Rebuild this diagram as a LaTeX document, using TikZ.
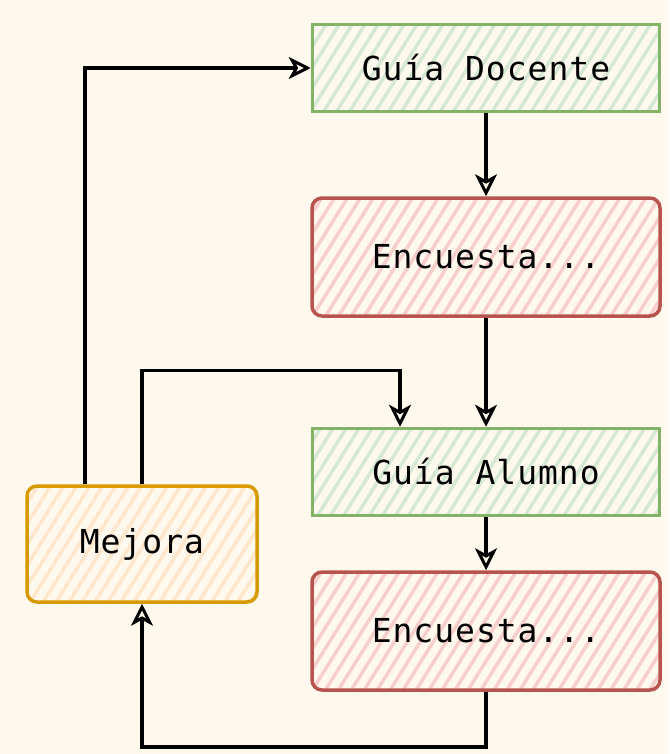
\documentclass[tikz,border=0pt]{standalone}
\usepackage{fontspec}
\setmonofont{DejaVu Sans Mono}
\newfontfamily\boxfont{DejaVu Sans Mono}[LetterSpace=3]
\usepackage{tikz}
\usetikzlibrary{arrows.meta}
\usetikzlibrary{patterns.meta}
\usetikzlibrary{positioning}

\definecolor{PaperColor}{RGB}{255,249,237}
\definecolor{GreenLine}{HTML}{82B366}
\definecolor{GreenFill}{HTML}{D5E8D4}
\definecolor{RedLine}{HTML}{B85450}
\definecolor{RedFill}{HTML}{F8CECC}
\definecolor{OrangeLine}{HTML}{D79B00}
\definecolor{OrangeFill}{HTML}{FFE6CC}

\tikzset{
  hatchbox/.style={line width=3.5pt, font=\boxfont\fontsize{33}{40}\selectfont,
    pattern={Lines[angle=58, distance=11pt, line width=3.5pt]}},
  guidebox/.style={hatchbox, draw=GreenLine, pattern color=GreenFill,
    minimum width=347pt, minimum height=87pt},
  surveybox/.style={hatchbox, draw=RedLine, pattern color=RedFill, rounded corners=10pt,
    minimum width=348pt, minimum height=118pt},
  fixbox/.style={hatchbox, draw=OrangeLine, pattern color=OrangeFill, rounded corners=10pt,
    minimum width=230pt, minimum height=116pt},
  arrow/.style={line width=3.5pt, black, -{Stealth[open, inset=6pt, length=22pt, width=22pt, line width=3pt]}}
}

\begin{document}
\begin{tikzpicture}[x=1pt, y=-1pt]
  \fill[PaperColor] (0,0) rectangle (669,754);
  \useasboundingbox (0,0) rectangle (669,754);

  \node[guidebox] (docente) at (486,68) {Guía Docente};
  \node[surveybox] (survey1) at (486,257) {Encuesta...};
  \node[guidebox] (alumno) at (486,472) {Guía Alumno};
  \node[surveybox] (survey2) at (486,631) {Encuesta...};
  \node[fixbox] (mejora) at (142,544) {Mejora};

  % main chain
  \draw[arrow] (docente) -- (survey1);
  \draw[arrow] (survey1) -- (alumno);
  \draw[arrow] (alumno) -- (survey2);

  % feedback loops
  \draw[arrow] (survey2.south) -- ++(0,55) -| (mejora.south);
  \draw[arrow] ([xshift=-57pt]mejora.north) |- (docente.west);
  \draw[arrow] (mejora.north) -- ++(0,-114) -| ([xshift=-86pt]alumno.north);
\end{tikzpicture}
\end{document}
